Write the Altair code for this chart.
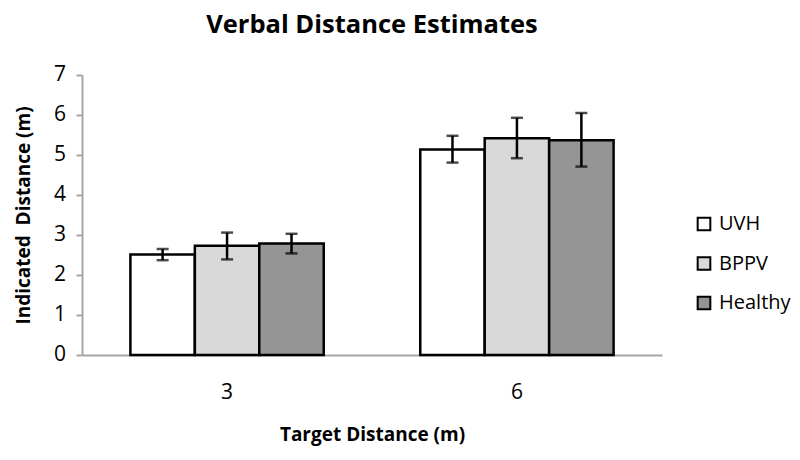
import altair as alt
import pandas as pd

targets = ["3", "3", "3", "6", "6", "6"]
groups = ["UVH", "BPPV", "Healthy", "UVH", "BPPV", "Healthy"]
means = [2.51, 2.73, 2.79, 5.14, 5.42, 5.37]
err_low = [2.37, 2.39, 2.54, 4.81, 4.92, 4.71]
err_high = [2.65, 3.06, 3.03, 5.48, 5.93, 6.05]
y_ticks = [0, 1, 2, 3, 4, 5, 6, 7]

group_order = ["UVH", "BPPV", "Healthy"]
fills = ["#ffffff", "#d9d9d9", "#959595"]

df = pd.DataFrame({"target": targets, "group": groups, "mean": means,
                   "lo": err_low, "hi": err_high})
ticks_df = pd.DataFrame({"v": y_ticks})

FONT = "Open Sans"

x = alt.X("target:N", title="Target Distance (m)",
          scale=alt.Scale(paddingInner=0.333, paddingOuter=0.167))
xo = alt.XOffset("group:N", sort=group_order)
yscale = alt.Scale(domain=[0, 7], nice=False)
ytitle = "Indicated\u00a0 Distance (m)"


def yaxis():
    return alt.Axis(values=y_ticks, labels=False)


base = alt.Chart(df)

bars = base.mark_bar(stroke="black", strokeWidth=2.5).encode(
    x=x, xOffset=xo,
    y=alt.Y("mean:Q", title=ytitle, scale=yscale, axis=yaxis()),
    fill=alt.Fill("group:N", sort=group_order,
                  scale=alt.Scale(domain=group_order, range=fills),
                  legend=alt.Legend(title=None, orient="none", legendX=612,
                                    legendY=139, symbolType="square",
                                    symbolSize=160, symbolStrokeColor="black",
                                    symbolStrokeWidth=2, labelFontSize=20,
                                    labelFont=FONT, labelColor="#000",
                                    rowPadding=17.5, labelOffset=5)),
)

rules = base.mark_rule(color="black", strokeWidth=2.5).encode(
    x=x, xOffset=xo, y=alt.Y("lo:Q", title=ytitle, scale=yscale, axis=yaxis()),
    y2="hi:Q")
cap_lo = base.mark_tick(color="black", thickness=2.5, size=12).encode(
    x=x, xOffset=xo, y=alt.Y("lo:Q", title=ytitle, scale=yscale, axis=yaxis()))
cap_hi = base.mark_tick(color="black", thickness=2.5, size=12).encode(
    x=x, xOffset=xo, y=alt.Y("hi:Q", title=ytitle, scale=yscale, axis=yaxis()))

ylabels = alt.Chart(ticks_df).mark_text(
    align="right", baseline="middle", fontSize=21, font=FONT, color="#000"
).encode(
    x=alt.value(-16),
    y=alt.Y("v:Q", title=ytitle, scale=yscale, axis=yaxis()),
    text=alt.Text("v:Q"),
)

chart = alt.layer(bars, rules, cap_lo, cap_hi, ylabels).properties(
    width=580, height=280,
    title=alt.TitleParams("Verbal Distance Estimates", fontSize=25.5,
                          font=FONT, fontWeight="bold", color="#000",
                          anchor="middle", offset=26),
    autosize=alt.AutoSizeParams(type="none"),
    padding={"left": 74, "top": 67, "right": 130, "bottom": 97},
).configure_view(stroke=None).configure_axisY(
    grid=False, tickSize=6, tickColor="#a6a6a6",
    tickWidth=2, domainColor="#a6a6a6", domainWidth=2,
    titleFontSize=19, titleFont=FONT, titleFontWeight="bold",
    titlePadding=42, titleColor="#000",
).configure_axisX(
    labelAngle=0, labelFontSize=21, labelFont=FONT, labelColor="#000",
    labelPadding=26, ticks=False, domainColor="#a6a6a6", domainWidth=2,
    titleFontSize=19, titleFont=FONT, titleFontWeight="bold",
    titlePadding=23, titleColor="#000",
)

chart.save("out.html", embed_options={"renderer": "svg", "actions": False})
